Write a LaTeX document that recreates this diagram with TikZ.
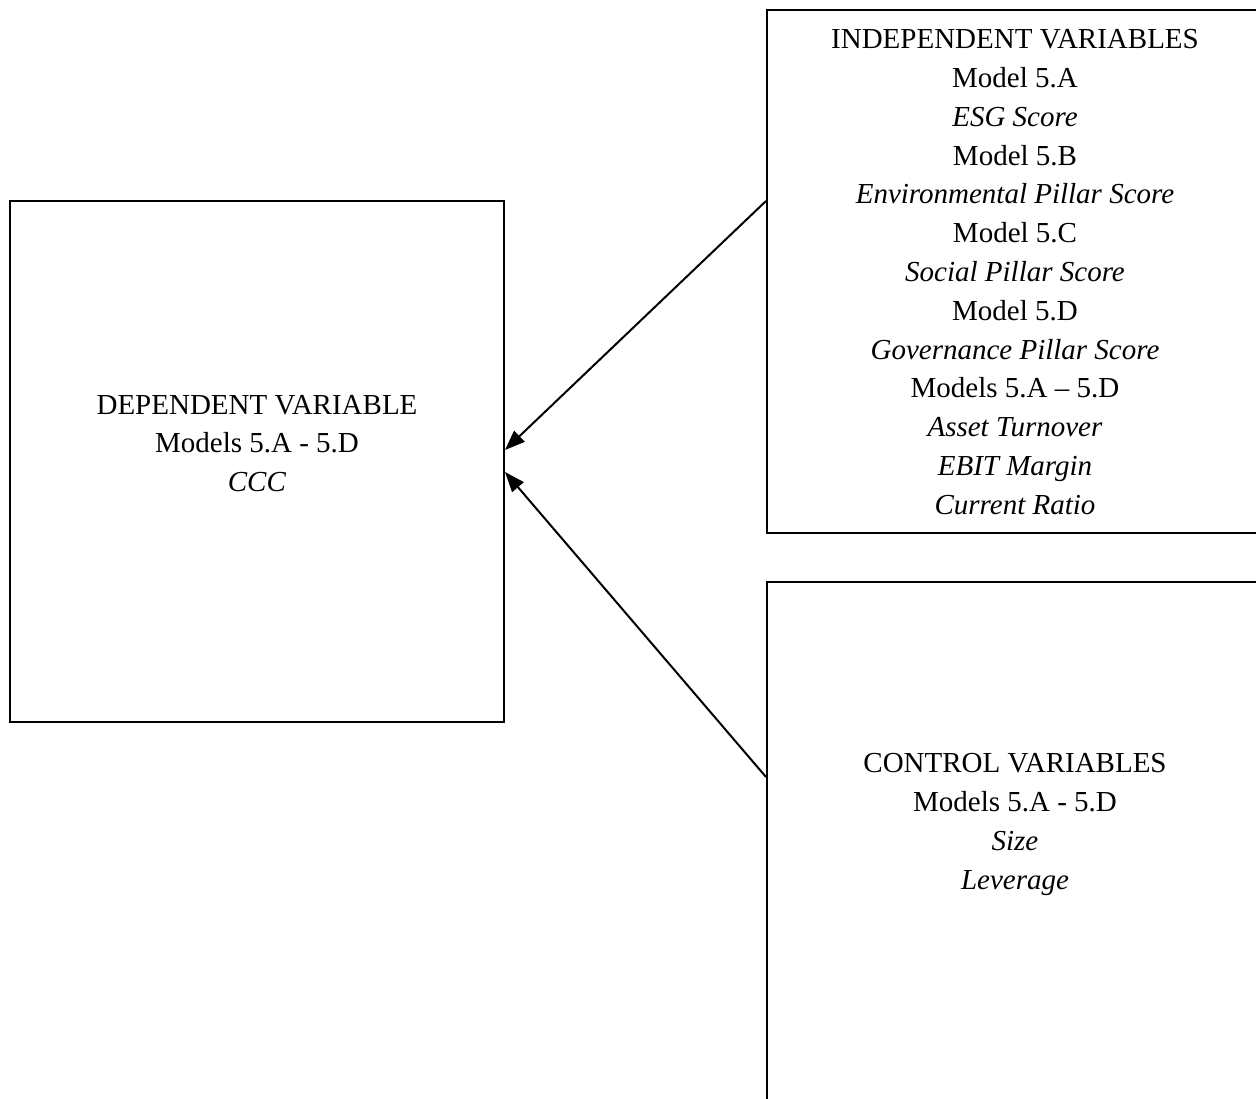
\documentclass[tikz,border=0pt]{standalone}
\usepackage{fontspec}
\setmainfont{Liberation Serif}
\usetikzlibrary{arrows.meta}
\begin{document}
\begin{tikzpicture}[x=1pt,y=-1pt,
  box/.style={draw=black,line width=2pt,minimum width=#1,inner sep=0pt},
  txt/.style={align=center,inner sep=0pt,font=\fontsize{29}{38.8}\selectfont},
  arr/.style={draw=black,line width=2pt,-{Triangle[length=20pt,width=15pt]}}]
\useasboundingbox (0,0) rectangle (1256,1099);
\clip (0,0) rectangle (1256,1099);
\fill[white] (0,0) rectangle (1256,1099);
\node[box=494pt,minimum height=521pt] (dep) at (257,461.5) {};
\node[box=500pt,minimum height=523pt] (indep) at (1017,271.5) {};
\node[box=500pt,minimum height=640pt] (ctrl) at (1017,902) {};
\node[txt] (deptxt) at (257,443.5) {DEPENDENT VARIABLE\\Models 5.A - 5.D\\\textit{CCC}};
\node[txt] (indeptxt) at (1015,272) {INDEPENDENT VARIABLES\\Model 5.A\\\textit{ESG Score}\\Model 5.B\\\textit{Environmental Pillar Score}\\Model 5.C\\\textit{Social Pillar Score}\\Model 5.D\\\textit{Governance Pillar Score}\\Models 5.A – 5.D\\\textit{Asset Turnover}\\\textit{EBIT Margin}\\\textit{Current Ratio}};
\node[txt] (ctrltxt) at (1015,824.5) {CONTROL VARIABLES\\Models 5.A - 5.D\\\textit{Size}\\\textit{Leverage}};
\draw[arr] ([yshift=-192pt]indep.north west) -- ([yshift=11.5pt]dep.east);
\draw[arr] ([yshift=-196pt]ctrl.north west) -- ([yshift=-10.5pt]dep.east);
\end{tikzpicture}
\end{document}
